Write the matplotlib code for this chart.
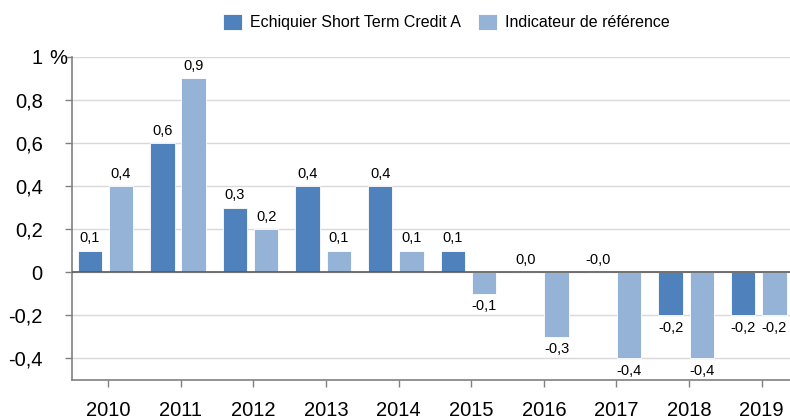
import matplotlib
matplotlib.use("Agg")
import matplotlib.pyplot as plt
import numpy as np

plt.rcParams['font.family'] = ['Liberation Sans', 'DejaVu Sans']

# données
years = ['2010', '2011', '2012', '2013', '2014', '2015', '2016', '2017', '2018', '2019']
fonds = [0.1, 0.6, 0.3, 0.4, 0.4, 0.1, 0.0, -0.0, -0.2, -0.2]
indice = [0.4, 0.9, 0.2, 0.1, 0.1, -0.1, -0.3, -0.4, -0.4, -0.2]
y_ticks = [-0.4, -0.2, 0, 0.2, 0.4, 0.6, 0.8, 1.0]
y_labels = ['-0,4', '-0,2', '0', '0,2', '0,4', '0,6', '0,8', '1']
series_names = ['Echiquier Short Term Credit A', 'Indicateur de référence']

c_fonds = '#4f81bd'
c_indice = '#95b3d7'

fig = plt.figure(figsize=(7.9, 4.19), dpi=100)
ax = fig.add_axes([0.0911, 0.0931, 0.919, 0.771])

x = np.arange(len(years))
w = 0.335
b1 = ax.bar(x - 0.255, fonds, w, color=c_fonds, edgecolor='white', linewidth=0.6,
            label=series_names[0], zorder=3)
b2 = ax.bar(x + 0.175, indice, w, color=c_indice, edgecolor='white', linewidth=0.6,
            label=series_names[1], zorder=3)

# étiquettes de valeurs
for bars, vals in [(b1, fonds), (b2, indice)]:
    for rect, v in zip(bars, vals):
        txt = f"{v:.1f}".replace('.', ',')
        cx = rect.get_x() + rect.get_width() / 2
        if v < 0:
            ax.annotate(txt, (cx, v), xytext=(0, -4), textcoords='offset points',
                        ha='center', va='top', fontsize=10.5)
        else:
            ax.annotate(txt, (cx, v), xytext=(0, 4), textcoords='offset points',
                        ha='center', va='bottom', fontsize=10.5)

ax.set_xlim(-0.5, len(years) - 0.5)
ax.set_ylim(-0.5, 1.0)
ax.set_xticks(x)
ax.set_xticklabels(years, fontsize=14.5)
ax.set_yticks(y_ticks)
ax.set_yticklabels(y_labels, fontsize=14.5)
# le signe % après le 1
ax.annotate('%', xy=(0, 1.0), xycoords=('axes fraction', 'data'), xytext=(-16, 0),
            textcoords='offset points', ha='left', va='center_baseline', fontsize=14.5)

ax.yaxis.grid(True, color='#d9d9d9', linewidth=1, zorder=0)
ax.axhline(0, color='#595959', linewidth=1.2, zorder=4)
for s in ['top', 'right']:
    ax.spines[s].set_visible(False)
for s in ['left', 'bottom']:
    ax.spines[s].set_color('#808080')
    ax.spines[s].set_linewidth(1.2)
ax.tick_params(axis='both', colors='#808080', labelcolor='black', length=5, width=1)
ax.tick_params(axis='x', pad=10)
ax.tick_params(axis='y', pad=16)

fig.legend(loc='center', bbox_to_anchor=(0.565, 1 - 22 / 419), ncol=2, frameon=False,
           fontsize=11.5, handlelength=1.19, handleheight=1.19, handletextpad=0.5,
           columnspacing=1.12)

fig.savefig('out.png', dpi=100)
